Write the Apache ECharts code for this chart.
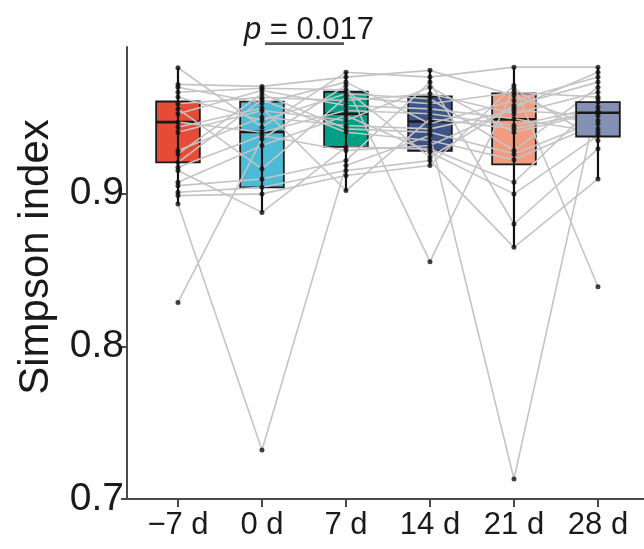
<!DOCTYPE html>
<html><head><meta charset="utf-8">
<script src="https://cdn.jsdelivr.net/npm/echarts@6/dist/echarts.min.js"></script>
<style>html,body{margin:0;padding:0;background:#fff}#c{width:644px;height:549px}</style>
</head><body><div id="c"></div>
<script>
// ---- data ----
const categories = ['\u22127 d', '0 d', '7 d', '14 d', '21 d', '28 d'];
const yTicks = [0.7, 0.8, 0.9];

// Simpson index per subject (same subject order in every array)
const dayM7 = [0.9824,0.9715,0.9697,0.9664,0.9632,0.9588,0.9555,0.9523,0.9468,0.9435,0.9402,0.9282,0.9260,0.9205,0.9172,0.9151,0.9074,0.9052,0.9009,0.8987,0.8932,0.8287];
const day0  = [0.9435,0.9702,0.9592,0.9690,0.9479,0.9630,0.9162,0.9675,0.9402,0.9560,0.9544,0.9500,0.9654,0.9614,0.9380,0.8877,0.9315,0.9096,0.9041,0.8998,0.7321,0.9359];
const day7  = [0.9795,0.9763,0.9730,0.9680,0.9654,0.9610,0.9632,0.9577,0.9544,0.9020,0.9479,0.9446,0.9424,0.9402,0.9282,0.9304,0.9511,0.9216,0.9151,0.9118,0.9184,0.9708];
const day14 = [0.9763,0.9807,0.9457,0.9238,0.9621,0.9654,0.9588,0.9555,0.9523,0.9490,0.9697,0.9424,0.9402,0.9348,0.9315,0.9293,0.9271,0.9730,0.9216,0.9184,0.9380,0.8554];
const day21 = [0.9828,0.9643,0.9610,0.9577,0.9282,0.9523,0.9664,0.9490,0.9446,0.9424,0.9402,0.9544,0.9260,0.9221,0.9560,0.9074,0.8998,0.8801,0.8648,0.9708,0.7131,0.9687];
const day28 = [0.9828,0.9424,0.9763,0.9730,0.9697,0.9664,0.9632,0.9402,0.9566,0.9540,0.9533,0.9511,0.9479,0.9457,0.9795,0.9599,0.9380,0.9293,0.9096,0.8390,0.9620,0.9348];

// box statistics per timepoint
const boxMin    = [0.8934,0.8877,0.9015,0.9184,0.8648,0.9096];
const boxQ1     = [0.9205,0.9041,0.9306,0.9280,0.9192,0.9374];
const boxMedian = [0.9468,0.9404,0.9523,0.9472,0.9486,0.9529];
const boxQ3     = [0.9603,0.9602,0.9667,0.9636,0.9656,0.9599];
const boxMax    = [0.9826,0.9702,0.9798,0.9810,0.9828,0.9828];

const boxColors = ['#E64B35','#4DBBD5','#00A087','#3C5488','#F39B7F','#8491B4'];

const pValueLabel = '{i|p} = 0.017';
const pPair = [1, 2];
const bracketLevel = 0.9982;

// ---- chart ----
const FONT = '"Liberation Sans", Arial, sans-serif';
const timepoints = [dayM7, day0, day7, day14, day21, day28];
const nSubj = dayM7.length;

const boxData = categories.map((c, i) => [i, boxMin[i], boxQ1[i], boxMedian[i], boxQ3[i], boxMax[i]]);

function boxRender(params, api) {
  const x = api.value(0);
  const q1 = api.coord([x, api.value(2)]);
  const q3 = api.coord([x, api.value(4)]);
  const md = api.coord([x, api.value(3)]);
  const w = api.size([1, 0])[0] * 0.52;
  return {
    type: 'group',
    children: [
      { type: 'rect', shape: { x: q1[0] - w / 2, y: q3[1], width: w, height: q1[1] - q3[1] },
        style: { fill: boxColors[x], stroke: '#1a1a1a', lineWidth: 1.8 } },
      { type: 'line', shape: { x1: q1[0] - w / 2, y1: md[1], x2: q1[0] + w / 2, y2: md[1] },
        style: { stroke: '#1a1a1a', lineWidth: 2.6 } }
    ]
  };
}
function whiskerRender(params, api) {
  const x = api.value(0);
  const lo = api.coord([x, api.value(1)]);
  const hi = api.coord([x, api.value(5)]);
  return { type: 'line', shape: { x1: lo[0], y1: lo[1], x2: hi[0], y2: hi[1] },
           style: { stroke: '#111', lineWidth: 2.2 } };
}

const series = [];
series.push({ type: 'custom', z: 2, silent: true, renderItem: boxRender,
  data: boxData.slice(0, 5), encode: { x: 0, y: [1, 2, 3, 4, 5] } });
for (let s = 0; s < nSubj; s++) {
  series.push({ type: 'line', z: 3, silent: true, symbol: 'none',
    lineStyle: { color: '#c4c4c4', width: 1.6 },
    data: timepoints.map((arr, i) => [i, arr[s]]) });
}
series.push({ type: 'custom', z: 4, silent: true, renderItem: boxRender,
  data: boxData.slice(5), encode: { x: 0, y: [1, 2, 3, 4, 5] } });
series.push({ type: 'custom', z: 5, silent: true, renderItem: whiskerRender,
  data: boxData, encode: { x: 0, y: [1, 2, 3, 4, 5] } });
timepoints.forEach((arr, i) => {
  series.push({ type: 'scatter', z: 6, silent: true, symbolSize: 5,
    itemStyle: { color: '#111' }, data: arr.map(v => [i, v]) });
});
series.push({ type: 'custom', z: 7, silent: true, clip: false,
  data: [[pPair[0], pPair[1]]],
  encode: { x: [0, 1] },
  renderItem: function (params, api) {
    const a = api.coord([api.value(0), bracketLevel]);
    const b = api.coord([api.value(1), bracketLevel]);
    return { type: 'group', children: [
      { type: 'line', shape: { x1: a[0] + 3, y1: a[1], x2: b[0] - 2, y2: b[1] },
        style: { stroke: '#555', lineWidth: 2.6 } },
      { type: 'text', x: (a[0] + b[0]) / 2 + 5, y: a[1] + 2,
        style: { text: pValueLabel, fontSize: 31, fontFamily: FONT, fill: '#1a1a1a',
                 align: 'center', verticalAlign: 'bottom',
                 rich: { i: { fontStyle: 'italic', fontSize: 31, fontFamily: FONT, fill: '#1a1a1a' } } } }
    ]};
  } });

const chart = echarts.init(document.getElementById('c'), null, { renderer: 'canvas' });
chart.setOption({
  animation: false,
  backgroundColor: '#fff',
  grid: { left: 127, right: 0, top: 47, bottom: 50, containLabel: false },
  xAxis: {
    type: 'value', min: -0.607, max: 5.548,
    splitLine: { show: false },
    axisLine: { show: true, onZero: false, lineStyle: { color: '#4a4a4a', width: 2 } },
    axisTick: { show: true, length: 8, lineStyle: { color: '#4a4a4a', width: 2 }, customValues: [0, 1, 2, 3, 4, 5] },
    axisLabel: { customValues: [0, 1, 2, 3, 4, 5], formatter: v => categories[Math.round(v)],
                 fontSize: 31, color: '#1a1a1a', margin: 11, fontFamily: FONT }
  },
  yAxis: {
    type: 'value', min: 0.7, max: 0.996,
    splitLine: { show: false },
    axisLine: { show: true, onZero: false, lineStyle: { color: '#4a4a4a', width: 2 } },
    axisTick: { show: true, length: 6, lineStyle: { color: '#4a4a4a', width: 2 }, customValues: yTicks },
    axisLabel: { customValues: yTicks, formatter: v => v.toFixed(1),
                 fontSize: 39, color: '#1a1a1a', margin: 3, fontFamily: FONT }
  },
  graphic: [{
    type: 'text', x: 36, y: 257, rotation: Math.PI / 2,
    style: { text: 'Simpson index', fontSize: 42, fontFamily: FONT, fill: '#1a1a1a',
             align: 'center', verticalAlign: 'middle' }
  }],
  series: series
});
</script></body></html>
